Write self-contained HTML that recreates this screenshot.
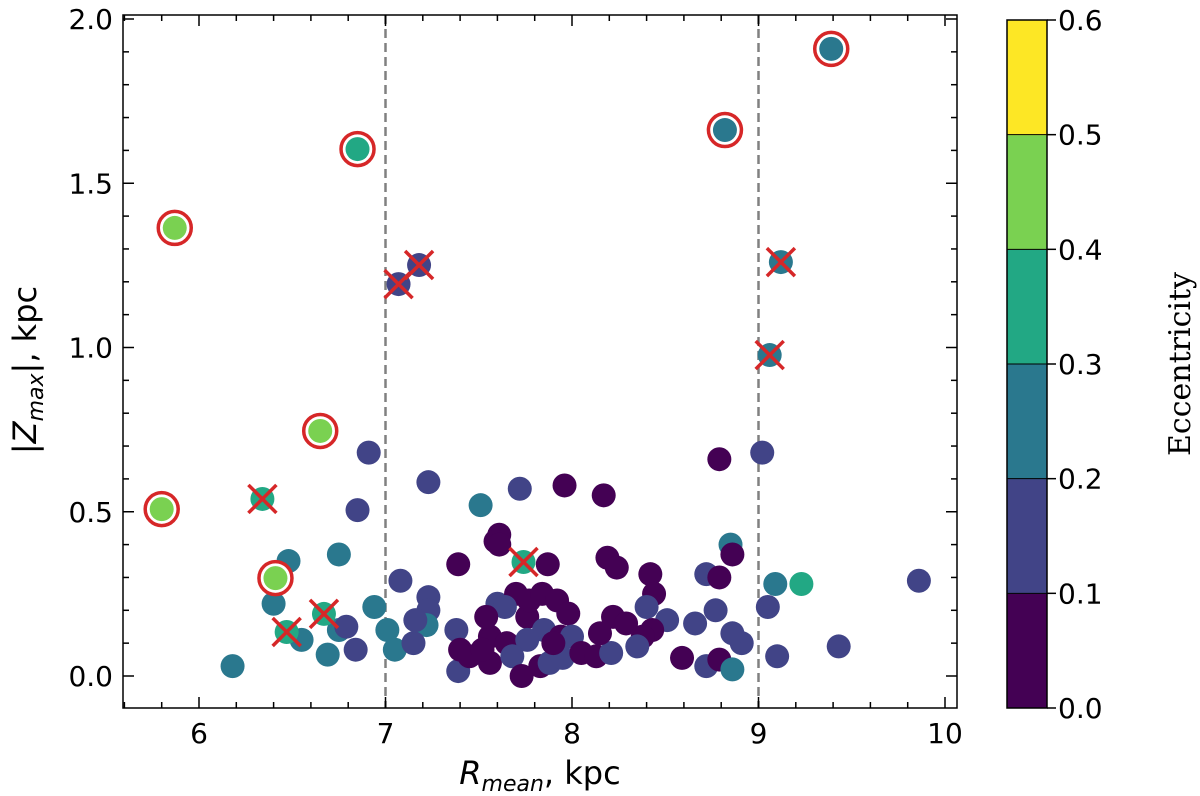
<!DOCTYPE html>
<html><head><meta charset="utf-8"><style>
body{margin:0;background:#fff;width:1200px;height:796px;overflow:hidden}
svg{display:block}
text{font-family:"DejaVu Sans","Liberation Sans",sans-serif;fill:#000}
</style></head><body>
<svg id="chart" width="1200" height="796" xmlns="http://www.w3.org/2000/svg"></svg>
<script>
// plain points
const px = [6.18,6.48,6.40,6.75,6.94,6.55,6.69,6.75,6.79,6.84,7.01,7.05,6.85,6.91,7.23,7.72,7.51,7.08,
 8.79,9.02,7.96,8.17,7.61,7.59,7.39,7.87,8.19,8.24,8.42,8.44,8.85,8.86,8.72,8.79,9.09,9.23,9.05,9.86,9.43,9.10,8.91,8.86,8.77,8.66,8.51,8.40,8.43,8.38,8.35,8.59,8.72,8.79,8.86,
 7.38,7.39,7.40,7.45,7.56,7.56,7.52,7.65,7.60,7.70,7.76,7.77,7.84,7.92,7.98,7.85,7.94,8.00,7.76,7.68,7.73,7.83,7.88,7.95,7.90,8.05,8.13,8.21,8.15,8.22,8.29,
 7.23,7.23,7.22,7.15,7.16,7.61,7.64,7.54];
const py = [0.03,0.35,0.22,0.37,0.21,0.11,0.065,0.14,0.15,0.08,0.14,0.08,0.505,0.68,0.59,0.57,0.52,0.29,
 0.66,0.68,0.58,0.55,0.43,0.41,0.34,0.34,0.36,0.33,0.31,0.25,0.40,0.37,0.31,0.30,0.28,0.28,0.21,0.29,0.09,0.06,0.10,0.13,0.20,0.16,0.17,0.21,0.14,0.12,0.09,0.055,0.03,0.05,0.02,
 0.14,0.015,0.08,0.06,0.12,0.04,0.08,0.10,0.22,0.25,0.18,0.23,0.25,0.23,0.19,0.14,0.12,0.12,0.11,0.06,0.00,0.03,0.04,0.055,0.10,0.07,0.06,0.07,0.13,0.18,0.16,
 0.24,0.20,0.155,0.10,0.17,0.40,0.21,0.18];
const pe = [0.25,0.25,0.25,0.25,0.25,0.25,0.25,0.25,0.15,0.15,0.25,0.25,0.15,0.15,0.15,0.15,0.25,0.15,
 0.05,0.15,0.05,0.05,0.05,0.05,0.05,0.05,0.05,0.05,0.05,0.05,0.25,0.05,0.15,0.05,0.25,0.35,0.15,0.15,0.15,0.15,0.15,0.15,0.15,0.15,0.15,0.15,0.05,0.05,0.15,0.05,0.15,0.05,0.25,
 0.15,0.15,0.05,0.05,0.05,0.05,0.05,0.05,0.15,0.05,0.05,0.05,0.05,0.05,0.05,0.15,0.05,0.15,0.15,0.15,0.05,0.05,0.15,0.15,0.05,0.05,0.05,0.15,0.05,0.05,0.05,
 0.15,0.15,0.25,0.15,0.15,0.05,0.15,0.05];
// circled points
const cx = [5.87,5.80,6.65,6.41,6.85,8.82,9.39];
const cy = [1.364,0.508,0.746,0.298,1.604,1.662,1.909];
const ce = [0.45,0.45,0.45,0.45,0.35,0.25,0.25];
// crossed points
const xx = [6.34,6.47,6.67,7.74,7.07,7.18,9.12,9.06];
const xy = [0.539,0.134,0.189,0.347,1.193,1.251,1.26,0.977];
const xe = [0.35,0.35,0.35,0.35,0.15,0.15,0.25,0.25];
const xTicks=[6,7,8,9,10], yTicks=[0.0,0.5,1.0,1.5,2.0], cTicks=[0.0,0.1,0.2,0.3,0.4,0.5,0.6];
const vLines=[7,9];
const colors=['#440154','#414487','#2a788e','#22a884','#7ad151','#fde725'];

const L=123,R=957,T=15,B=708;
const X=v=>199+(v-6)*186.5, Y=v=>676-v*328.5;
const col=e=>colors[Math.min(5,Math.floor(e*10+1e-9))];
const svg=document.getElementById('chart'), NS='http://www.w3.org/2000/svg';
function mk(t,a,p){const e=document.createElementNS(NS,t);for(const k in a)e.setAttribute(k,a[k]);(p||svg).appendChild(e);return e;}

const gl=mk('g',{});


vLines.forEach(v=>mk('line',{x1:X(v),x2:X(v),y1:T,y2:B,stroke:'#808080','stroke-width':2.5,'stroke-dasharray':'9,5'},gl));

const gp=mk('g',{});


px.forEach((v,i)=>{const c=mk('circle',{cx:X(v),cy:Y(py[i]),r:12,fill:col(pe[i])},gp);

});
xx.forEach((v,i)=>{const c=mk('circle',{cx:X(v),cy:Y(xy[i]),r:12,fill:col(xe[i])},gp);


const a=X(v),b=Y(xy[i]),s=14;
mk('path',{d:`M${a-s},${b-s}L${a+s},${b+s}M${a-s},${b+s}L${a+s},${b-s}`,stroke:'#d62728','stroke-width':3.5},gp);});
cx.forEach((v,i)=>{const a=X(v),b=Y(cy[i]);
mk('circle',{cx:a,cy:b,r:16.5,fill:'#fff',stroke:'#d62728','stroke-width':3.5},gp);
const c=mk('circle',{cx:a,cy:b,r:12,fill:col(ce[i])},gp);

});

const fr=mk('rect',{x:L,y:T,width:R-L,height:B-T,fill:'none',stroke:'#000','stroke-width':1.5});



const ga=mk('g',{stroke:'#000','stroke-width':1.5});


for(let v=5.6;v<=10.05;v+=0.2){const x=X(v);if(x<L||x>R)continue;const maj=Math.abs(v-Math.round(v))<0.01;const s=maj?11:6;
mk('line',{x1:x,x2:x,y1:B,y2:B-s},ga);mk('line',{x1:x,x2:x,y1:T,y2:T+s},ga);}
for(let v=-0.1;v<=2.01;v+=0.1){const y=Y(v);if(y<T||y>B)continue;const maj=Math.abs(v*2-Math.round(v*2))<0.01;const s=maj?11:6;
mk('line',{x1:L,x2:L+s,y1:y,y2:y},ga);mk('line',{x1:R,x2:R-s,y1:y,y2:y},ga);}
xTicks.forEach(v=>{const t=mk('text',{x:X(v),y:B+35,'font-size':28,'text-anchor':'middle'});t.textContent=v;

});
yTicks.forEach(v=>{const t=mk('text',{x:L-10,y:Y(v)+10,'font-size':28,'text-anchor':'end'});t.textContent=v.toFixed(1);

});

const xl=mk('text',{x:540,y:784,'font-size':32,'text-anchor':'middle'});
xl.innerHTML='<tspan font-style="italic">R</tspan><tspan font-style="italic" font-size="22" dy="7">mean</tspan><tspan dy="-7">, kpc</tspan>';


const yl=mk('text',{x:0,y:0,'font-size':32,'text-anchor':'middle',transform:'translate(36,370) rotate(-90)'});
yl.innerHTML='|<tspan font-style="italic">Z</tspan><tspan font-style="italic" font-size="22" dy="7">max</tspan><tspan dy="-7">|, kpc</tspan>';



// colorbar
const CL=1007,CR=1047,CT=20,CB=708,C=v=>CB-v/0.6*(CB-CT);
const gc=mk('g',{});


colors.forEach((c,i)=>mk('rect',{x:CL,y:C((i+1)/10),width:CR-CL,height:C(i/10)-C((i+1)/10)+0.5,fill:c},gc));
cTicks.forEach(v=>{if(v>0&&v<0.6)mk('line',{x1:CL,x2:CR,y1:C(v),y2:C(v),stroke:'#000','stroke-width':1},gc);
mk('line',{x1:CR,x2:CR+9,y1:C(v),y2:C(v),stroke:'#000','stroke-width':1.5},gc);
const t=mk('text',{x:CR+11,y:C(v)+10,'font-size':28},gc);t.textContent=v.toFixed(1);

});
mk('rect',{x:CL,y:CT,width:CR-CL,height:CB-CT,fill:'none',stroke:'#000','stroke-width':1.5},gc);
const cl=mk('text',{x:0,y:0,'font-size':30,'text-anchor':'middle',transform:'translate(1190,364) rotate(-90)',style:'font-family:"DejaVu Serif","Liberation Serif",serif'});
cl.textContent='Eccentricity';


</script>
</body></html>
